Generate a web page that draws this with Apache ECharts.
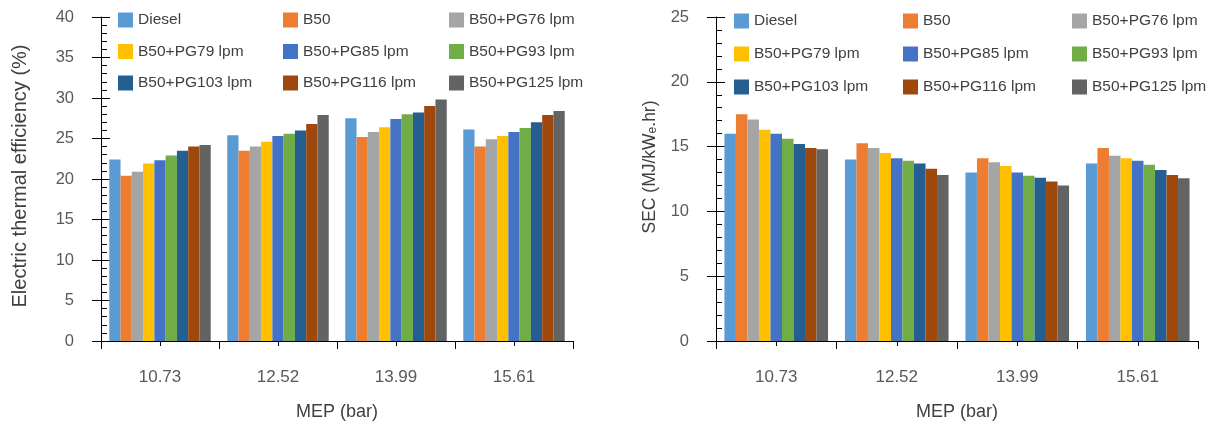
<!DOCTYPE html>
<html>
<head>
<meta charset="utf-8">
<script src="https://cdn.jsdelivr.net/npm/echarts@6/dist/echarts.min.js"></script>
<style>
  html, body { margin: 0; padding: 0; background: #fff; }
  #chart { width: 1219px; height: 432px; }
</style>
</head>
<body>
<div id="chart"></div>
<script>
const categories = ["10.73", "12.52", "13.99", "15.61"]
const seriesNames = [
  "Diesel", "B50", "B50+PG76 lpm",
  "B50+PG79 lpm", "B50+PG85 lpm", "B50+PG93 lpm",
  "B50+PG103 lpm", "B50+PG116 lpm", "B50+PG125 lpm"
]
const colors = [
  "#5B9BD5", "#ED7D31", "#A5A5A5",
  "#FFC000", "#4472C4", "#70AD47",
  "#255E91", "#9E480E", "#636363"
]

// electric thermal efficiency (%), one array per fuel, per MEP
const effDiesel = [22.4, 25.4, 27.5, 26.1]
const effB50 = [20.4, 23.5, 25.2, 24.0]
const effPG76 = [20.9, 24.0, 25.8, 24.9]
const effPG79 = [21.9, 24.6, 26.4, 25.3]
const effPG85 = [22.3, 25.3, 27.4, 25.8]
const effPG93 = [22.9, 25.6, 28.0, 26.3]
const effPG103 = [23.5, 26.0, 28.2, 27.0]
const effPG116 = [24.0, 26.8, 29.0, 27.9]
const effPG125 = [24.2, 27.9, 29.8, 28.4]

// SEC (MJ/kWe.hr)
const secDiesel = [16.0, 14.0, 13.0, 13.7]
const secB50 = [17.5, 15.25, 14.1, 14.9]
const secPG76 = [17.1, 14.9, 13.8, 14.3]
const secPG79 = [16.3, 14.5, 13.5, 14.1]
const secPG85 = [16.0, 14.1, 13.0, 13.9]
const secPG93 = [15.6, 13.9, 12.75, 13.6]
const secPG103 = [15.2, 13.7, 12.6, 13.2]
const secPG116 = [14.9, 13.3, 12.3, 12.8]
const secPG125 = [14.8, 12.8, 12.0, 12.55]

const effTicks = { min: 0, max: 40, interval: 5 }
const secTicks = { min: 0, max: 25, interval: 5 }

const effData = [effDiesel, effB50, effPG76, effPG79, effPG85, effPG93, effPG103, effPG116, effPG125]
const secData = [secDiesel, secB50, secPG76, secPG79, secPG85, secPG93, secPG103, secPG116, secPG125]

const font = "'Liberation Sans', Arial, sans-serif"
const textColor = "#595959"

const makeX = (gridIndex) => ([
  {
    type: "category",
    gridIndex,
    data: categories,
    axisLine: { lineStyle: { color: "#000", width: 1 } },
    axisTick: { show: true, length: 8, lineStyle: { color: "#000" } },
    axisLabel: { color: textColor, fontSize: 17, fontFamily: font, margin: 28 },
    name: "MEP (bar)",
    nameLocation: "middle",
    nameGap: 62,
    nameTextStyle: { color: "#404040", fontSize: 18, fontFamily: font },
    splitLine: { show: false }
  },
  {
    type: "category",
    gridIndex,
    data: categories,
    axisLine: { show: false },
    axisTick: { show: true, inside: true, alignWithLabel: true, length: 5, lineStyle: { color: "#000" } },
    axisLabel: { show: false },
    splitLine: { show: false }
  }
])

const makeY = (gridIndex, ticks, name, size, padLeft, gap, rich) => ([
  {
    type: "value",
    gridIndex,
    position: "left",
    min: ticks.min, max: ticks.max, interval: ticks.interval,
    axisLine: { show: true, lineStyle: { color: "#000", width: 1 } },
    axisTick: { show: true, length: 9, lineStyle: { color: "#000" } },
    axisLabel: { color: textColor, fontSize: 16.5, fontFamily: font, margin: 27 },
    splitLine: { show: false },
    name,
    nameLocation: "middle",
    nameRotate: 90,
    nameGap: gap,
    nameTextStyle: {
      color: "#404040", fontSize: size, fontFamily: font,
      padding: [0, 0, 0, padLeft],
      rich
    }
  },
  {
    type: "value",
    gridIndex,
    position: "left",
    min: ticks.min, max: ticks.max, interval: ticks.interval,
    axisLine: { show: false },
    axisTick: { show: true, inside: true, length: 9, lineStyle: { color: "#000" } },
    minorTick: { show: true, splitNumber: 5, length: 6, lineStyle: { color: "#000" } },
    axisLabel: { show: false },
    splitLine: { show: false }
  }
])

const makeLegends = (xs, top, gap) => xs.map((x, col) => ({
  orient: "vertical",
  left: x,
  top,
  padding: 0,
  itemGap: gap,
  itemWidth: 15,
  itemHeight: 15,
  itemTextGap: 7,
  icon: "rect",
  textStyle: { color: "#404040", fontSize: 15.5, fontFamily: font },
  data: [seriesNames[col], seriesNames[col + 3], seriesNames[col + 6]]
}))

const makeSeries = (data, axisIndex) => data.map((vals, i) => ({
  name: seriesNames[i],
  type: "bar",
  xAxisIndex: axisIndex,
  yAxisIndex: axisIndex,
  barGap: 0,
  barCategoryGap: "14%",
  itemStyle: { color: colors[i] },
  data: vals
}))

const myChart = echarts.init(document.getElementById("chart"), null, { renderer: "canvas" })

myChart.setOption({
  animation: false,
  color: colors,
  grid: [
    { left: 101, top: 17, width: 472, height: 324 },
    { left: 716, top: 17, width: 482, height: 324 }
  ],
  xAxis: [...makeX(0), ...makeX(1)],
  yAxis: [
    ...makeY(0, effTicks, "Electric thermal efficiency (%)", 20, 6, 71),
    ...makeY(1, secTicks, "SEC (MJ/kW{sub|e}.hr)", 17.5, 24, 57, {
      sub: { fontSize: 12, fontFamily: font, color: "#404040", verticalAlign: "bottom", padding: [6, 0, 0, 0] }
    })
  ],
  legend: [
    ...makeLegends([118, 283, 449], 12, 15.5),
    ...makeLegends([734, 903, 1072], 13, 17)
  ],
  series: [
    ...makeSeries(effData, 0).map(s => ({ ...s, xAxisIndex: 0, yAxisIndex: 0 })),
    ...makeSeries(secData, 0).map(s => ({ ...s, xAxisIndex: 2, yAxisIndex: 2 }))
  ]
})

window.addEventListener("resize", () => {
  myChart.resize()
})
</script>
</body>
</html>
